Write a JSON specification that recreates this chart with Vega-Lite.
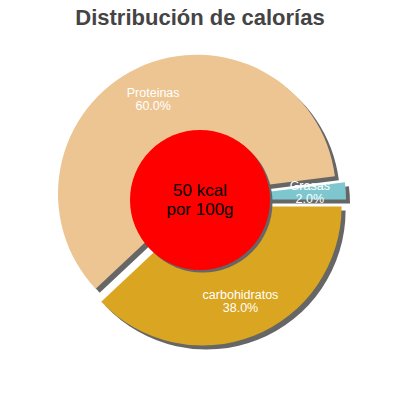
{
  "$schema": "https://vega.github.io/schema/vega-lite/v6.json",
  "width": 400,
  "height": 400,
  "padding": 0,
  "autosize": {"type": "none"},
  "background": "white",
  "title": {
    "text": "Distribución de calorías",
    "font": "Liberation Sans",
    "fontSize": 22,
    "fontWeight": "bold",
    "color": "#444444",
    "anchor": "middle",
    "offset": -30
  },
  "config": {"view": {"stroke": null}},
  "layer": [
    {
      "data": {
        "values": [
          {"nutriente": "Proteinas", "pct": 60},
          {"nutriente": "carbohidratos", "pct": 38},
          {"nutriente": "Grasas", "pct": 2}
        ]
      },
      "transform": [
        {"stack": "pct", "groupby": [], "sort": [{"field": "pct", "order": "ascending"}], "as": ["inicio", "fin"]},
        {"calculate": "(datum.inicio + datum.fin) / 2", "as": "medio"},
        {"calculate": "format(datum.pct, '.1f') + '%'", "as": "pct_texto"}
      ],
      "encoding": {
        "theta": {"field": "inicio", "type": "quantitative", "stack": null, "scale": {"domain": [0, 100], "range": [1.44513, 7.72832]}},
        "theta2": {"field": "fin"}
      },
      "layer": [
        {
          "transform": [{"filter": "datum.nutriente == 'Proteinas'"}],
          "mark": {"type": "arc", "outerRadius": 139, "color": "#666666", "xOffset": 1, "yOffset": -2.3}
        },
        {
          "transform": [{"filter": "datum.nutriente == 'carbohidratos'"}],
          "mark": {"type": "arc", "outerRadius": 139, "color": "#666666", "xOffset": 6.6, "yOffset": 10.5}
        },
        {
          "transform": [{"filter": "datum.nutriente == 'Grasas'"}],
          "mark": {"type": "arc", "outerRadius": 139, "color": "#666666", "xOffset": 11, "yOffset": 3.6}
        },
        {
          "transform": [{"filter": "datum.nutriente == 'Proteinas'"}],
          "mark": {"type": "arc", "outerRadius": 139, "color": "#EDC592", "xOffset": -3, "yOffset": -6.3}
        },
        {
          "transform": [{"filter": "datum.nutriente == 'carbohidratos'"}],
          "mark": {"type": "arc", "outerRadius": 139, "color": "#DAA520", "xOffset": 2.6, "yOffset": 6.5}
        },
        {
          "transform": [{"filter": "datum.nutriente == 'Grasas'"}],
          "mark": {"type": "arc", "outerRadius": 139, "color": "#7EC7CF", "xOffset": 7, "yOffset": -0.4}
        },
        {
          "mark": {
            "type": "text",
            "radius": 110,
            "align": "center",
            "baseline": "alphabetic",
            "font": "Liberation Sans",
            "fontSize": 12.5,
            "dy": -3,
            "color": "white"
          },
          "encoding": {
            "theta": {"field": "medio", "type": "quantitative", "stack": null},
            "theta2": null,
            "text": {"field": "nutriente"}
          }
        },
        {
          "mark": {
            "type": "text",
            "radius": 110,
            "align": "center",
            "baseline": "alphabetic",
            "font": "Liberation Sans",
            "fontSize": 12.5,
            "dy": 9.5,
            "color": "white"
          },
          "encoding": {
            "theta": {"field": "medio", "type": "quantitative", "stack": null},
            "theta2": null,
            "text": {"field": "pct_texto"}
          }
        }
      ]
    },
    {
      "data": {"values": [{"kcal": 50, "porcion": "100g"}]},
      "transform": [
        {"calculate": "datum.kcal + ' kcal'", "as": "linea1"},
        {"calculate": "'por ' + datum.porcion", "as": "linea2"}
      ],
      "layer": [
        {
          "mark": {"type": "arc", "outerRadius": 70, "theta": 0, "theta2": 6.2832, "color": "#666666", "xOffset": 2.5, "yOffset": 2.5}
        },
        {
          "mark": {"type": "arc", "outerRadius": 70, "theta": 0, "theta2": 6.2832, "color": "#FF0000"}
        },
        {
          "mark": {
            "type": "text",
            "align": "center",
            "baseline": "alphabetic",
            "font": "Liberation Sans",
            "fontSize": 17,
            "color": "black",
            "dy": -4.5
          },
          "encoding": {"text": {"field": "linea1"}}
        },
        {
          "mark": {
            "type": "text",
            "align": "center",
            "baseline": "alphabetic",
            "font": "Liberation Sans",
            "fontSize": 17,
            "color": "black",
            "dy": 14.5
          },
          "encoding": {"text": {"field": "linea2"}}
        }
      ]
    }
  ]
}
